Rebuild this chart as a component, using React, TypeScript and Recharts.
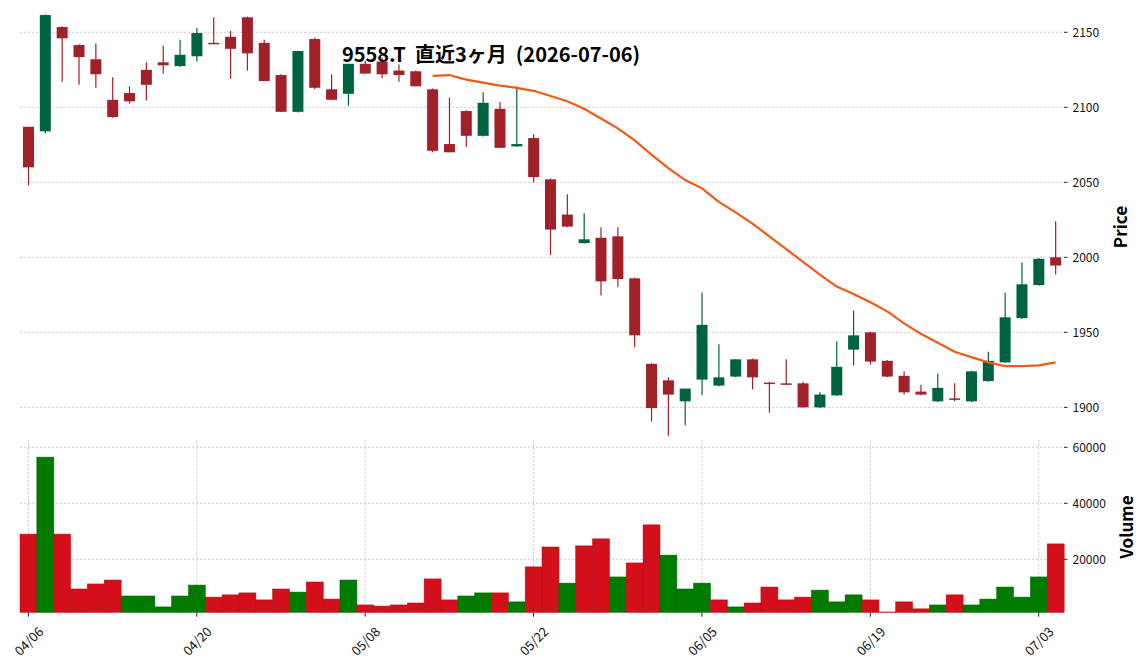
import React from "react";
import {
  ComposedChart,
  BarChart,
  Bar,
  Line,
  XAxis,
  YAxis,
  CartesianGrid,
} from "recharts";

// 取引日 (2026)
const DATES = [
  "04/06", "04/07", "04/08", "04/09", "04/10", "04/13", "04/14", "04/15", "04/16", "04/17",
  "04/20", "04/21", "04/22", "04/23", "04/24", "04/27", "04/28", "04/30", "05/01", "05/07",
  "05/08", "05/11", "05/12", "05/13", "05/14", "05/15", "05/18", "05/19", "05/20", "05/21",
  "05/22", "05/25", "05/26", "05/27", "05/28", "05/29", "06/01", "06/02", "06/03", "06/04",
  "06/05", "06/08", "06/09", "06/10", "06/11", "06/12", "06/15", "06/16", "06/17", "06/18",
  "06/19", "06/22", "06/23", "06/24", "06/25", "06/26", "06/29", "06/30", "07/01", "07/02",
  "07/03", "07/06",
];

const OPEN = [
  2087, 2084, 2153.5, 2141.5, 2132, 2105, 2109.5, 2125, 2130, 2127.5,
  2134, 2143, 2147, 2160, 2143, 2121.5, 2097, 2145.5, 2112, 2109,
  2129, 2130.5, 2124.5, 2124, 2112, 2075.5, 2097.5, 2081, 2099, 2074,
  2079.5, 2052, 2028.5, 2009.5, 2013, 2014, 1986, 1929, 1918, 1904,
  1918.5, 1914.5, 1920.5, 1932, 1916.5, 1916, 1916, 1900, 1908, 1938.5,
  1950, 1931, 1921, 1910.5, 1904, 1906, 1904, 1917.5, 1930, 1959.5,
  1981.5, 2000,
];

const HIGH = [
  2087, 2162, 2154, 2142, 2142.5, 2120, 2114, 2130, 2141, 2145,
  2153, 2160, 2151, 2160.5, 2145, 2122, 2137.5, 2146.5, 2122, 2129,
  2131, 2133, 2128.5, 2124.5, 2112.5, 2106.5, 2098, 2110, 2103.5, 2114,
  2082, 2052.5, 2042, 2029.5, 2020, 2020, 1986.5, 1929.5, 1920, 1912.5,
  1976.5, 1942, 1932, 1932.5, 1917, 1932, 1917, 1910, 1944, 1964.5,
  1950.5, 1931.5, 1924, 1915, 1922.5, 1916, 1924.5, 1937, 1976.5, 1996.5,
  1999.5, 2024,
];

const LOW = [
  2048, 2082.5, 2117, 2115, 2113, 2093, 2102.5, 2104.5, 2122.5, 2127,
  2130.5, 2142.5, 2119, 2124.5, 2117.5, 2097, 2096.5, 2112, 2105, 2101,
  2122.5, 2119.5, 2117, 2114, 2070, 2070, 2073.5, 2080.5, 2073, 2073.5,
  2050, 2001.5, 2020, 2009, 1974.5, 1980, 1940, 1890.5, 1881, 1888,
  1908, 1914, 1920, 1912, 1896.5, 1915.5, 1900, 1899.5, 1907.5, 1928,
  1928.5, 1920, 1908.5, 1908, 1903.5, 1904, 1903.5, 1917, 1929.5, 1959,
  1981, 1988.5,
];

const CLOSE = [
  2060, 2161.5, 2146, 2133.5, 2122, 2093.5, 2104, 2115, 2128, 2135,
  2149.5, 2142.5, 2139, 2136, 2117.5, 2097, 2137.5, 2113, 2105, 2129,
  2122.5, 2122, 2121.5, 2114, 2071, 2070, 2081, 2103, 2073, 2075.5,
  2053.5, 2018.5, 2020.5, 2012, 1984, 1985.5, 1948, 1899.5, 1908.5, 1912.5,
  1955, 1920, 1932, 1920, 1916, 1915.5, 1900, 1908.5, 1927, 1948,
  1930.5, 1920.5, 1910, 1908.5, 1913, 1905.5, 1924, 1931, 1960, 1982,
  1999, 1994.5,
];

const VOLUME = [
  29000, 56500, 29000, 9400, 11200, 12600, 6900, 6900, 3000, 6900,
  10800, 6500, 7300, 8000, 5500, 9400, 8300, 11900, 5800, 12600,
  3700, 3300, 3700, 4400, 13000, 5500, 6900, 8000, 8000, 4800,
  17300, 24400, 11500, 24800, 27300, 13700, 18700, 32300, 21500, 9400,
  11500, 5500, 3000, 4400, 10100, 5500, 6500, 9000, 4800, 7300,
  5500, 1200, 4800, 2300, 3700, 7300, 3700, 5800, 10100, 6500,
  13700, 25500,
];

// 25日移動平均
const MA25 = [
  null, null, null, null, null, null, null, null, null, null,
  null, null, null, null, null, null, null, null, null, null,
  null, null, null, null, 2121, 2121.5, 2118.5, 2116.5, 2114.5, 2113,
  2111, 2107.5, 2104, 2099, 2092.5, 2086, 2078, 2068.5, 2059.5, 2051.5,
  2046, 2037, 2030, 2022.5, 2014, 2005.5, 1997, 1988.5, 1980.5, 1975.5,
  1970, 1964, 1956, 1949, 1943, 1937, 1933.5, 1930, 1927.5, 1927.5,
  1928, 1930,
];

const DATE_TICKS = ["04/06", "04/20", "05/08", "05/22", "06/05", "06/19", "07/03"];
const PRICE_TICKS = [1900, 1950, 2000, 2050, 2100, 2150];
const VOLUME_TICKS = [20000, 40000, 60000];

const UP = "#006340";
const DOWN = "#a0212a";
const VOL_UP = "#007a00";
const VOL_DOWN = "#d40f1c";
const MA_COLOR = "#f25a14";
const GRID = "#c4c4c4";
const FONT = '"Noto Sans CJK JP", "Noto Sans", sans-serif';

const rows = DATES.map((date, i) => ({
  date,
  open: OPEN[i],
  high: HIGH[i],
  low: LOW[i],
  close: CLOSE[i],
  volume: VOLUME[i],
  ma: MA25[i],
  up: CLOSE[i] >= OPEN[i],
  volUp: i === 0 ? CLOSE[i] >= OPEN[i] : CLOSE[i] >= CLOSE[i - 1],
}));

function Candle(props: any) {
  const { x, y, width, height, payload } = props;
  if (x == null || payload == null) return null;
  const { open, high, low, close, up } = payload;
  const range = high - low;
  const k = range > 0 ? Math.abs(height) / range : 0;
  const top = Math.min(y, y + height);
  const py = (p: number) => top + (high - p) * k;
  const color = up ? UP : DOWN;
  const cx = x + width / 2;
  const bodyTop = py(Math.max(open, close));
  const bodyH = Math.max(py(Math.min(open, close)) - bodyTop, 1.5);
  return (
    <g>
      <line x1={cx} x2={cx} y1={py(high)} y2={py(low)} stroke={color} strokeWidth={1.2} />
      <rect x={x} y={bodyTop} width={width} height={bodyH} fill={color} />
    </g>
  );
}

function VolumeBar(props: any) {
  const { x, y, width, height, payload } = props;
  if (x == null || payload == null || !(height > 0)) return null;
  return (
    <rect
      x={x}
      y={y}
      width={width}
      height={height}
      fill={payload.volUp ? VOL_UP : VOL_DOWN}
      stroke={payload.volUp ? "#006a00" : "#b50c18"}
      strokeWidth={0.5}
    />
  );
}

function DateTick({ x, y, payload }: any) {
  const cy = y + 24;
  return (
    <text
      x={x}
      y={cy}
      textAnchor="middle"
      dominantBaseline="central"
      transform={`rotate(-45 ${x} ${cy})`}
      fontSize={13}
      fontFamily={FONT}
      fill="#111"
    >
      {payload.value}
    </text>
  );
}

const axisTick = { fontSize: 12, fill: "#111", fontFamily: FONT };

export default function App() {
  return (
    <div
      style={{
        position: "absolute",
        left: 0,
        top: 0,
        width: 1144,
        height: 670,
        background: "#fff",
        overflow: "hidden",
      }}
    >
      {/* 出来高 */}
      <div style={{ position: "absolute", left: 0, top: 0 }}>
        <BarChart
          width={1144}
          height={670}
          data={rows}
          margin={{ top: 440, right: 20, bottom: 7.3, left: 20 }}
          barCategoryGap={0}
          barGap={0}
        >
          <CartesianGrid
            stroke={GRID}
            strokeDasharray="2.5 1.5"
            strokeWidth={0.8}
            syncWithTicks
          />
          <XAxis
            dataKey="date"
            ticks={DATE_TICKS}
            interval={0}
            height={50}
            axisLine={false}
            tickSize={4}
            tickMargin={0}
            tickLine={{ stroke: "#222" }}
            tick={<DateTick />}
          />
          <YAxis
            orientation="right"
            domain={[929, 62607]}
            allowDataOverflow
            ticks={VOLUME_TICKS}
            width={60}
            tickSize={3.5}
            tickMargin={5}
            axisLine={false}
            tickLine={{ stroke: "#222" }}
            tick={axisTick}
          />
          <Bar dataKey="volume" shape={<VolumeBar />} isAnimationActive={false} />
        </BarChart>
      </div>

      {/* 株価 */}
      <div style={{ position: "absolute", left: 0, top: 0 }}>
        <ComposedChart
          width={1144}
          height={440}
          data={rows}
          margin={{ top: 11, right: 20, bottom: 1, left: 20 }}
        >
          <CartesianGrid
            stroke={GRID}
            strokeDasharray="2.5 1.5"
            strokeWidth={0.8}
            syncWithTicks
          />
          <XAxis
            dataKey="date"
            ticks={DATE_TICKS}
            interval={0}
            height={0}
            tick={false}
            tickLine={false}
            axisLine={false}
          />
          <YAxis
            orientation="right"
            domain={[1878.9, 2164.2]}
            allowDataOverflow
            ticks={PRICE_TICKS}
            width={60}
            tickSize={3.5}
            tickMargin={5}
            axisLine={false}
            tickLine={{ stroke: "#222" }}
            tick={axisTick}
          />
          <Bar
            dataKey={(d: any) => [d.low, d.high]}
            barSize={11}
            shape={<Candle />}
            isAnimationActive={false}
          />
          <Line
            dataKey="ma"
            stroke={MA_COLOR}
            strokeWidth={2.2}
            dot={false}
            activeDot={false}
            connectNulls={false}
            isAnimationActive={false}
          />
        </ComposedChart>
      </div>

      {/* タイトル・軸ラベル */}
      <svg
        width={1144}
        height={670}
        style={{ position: "absolute", left: 0, top: 0, pointerEvents: "none" }}
      >
        <text
          x={491}
          y={62}
          textAnchor="middle"
          xmlSpace="preserve"
          style={{ whiteSpace: "pre" }}
          fontSize={20}
          fontWeight={700}
          fontFamily={FONT}
          fill="#000"
        >
          {"9558.T  直近3ヶ月  (2026-07-06)"}
        </text>
        <text
          x={1119}
          y={227}
          textAnchor="middle"
          dominantBaseline="central"
          transform="rotate(-90 1119 227)"
          fontSize={17}
          fontWeight={700}
          fontFamily={FONT}
          fill="#000"
        >
          Price
        </text>
        <text
          x={1125}
          y={527}
          textAnchor="middle"
          dominantBaseline="central"
          transform="rotate(-90 1125 527)"
          fontSize={17}
          fontWeight={700}
          fontFamily={FONT}
          fill="#000"
        >
          Volume
        </text>
      </svg>
    </div>
  );
}
